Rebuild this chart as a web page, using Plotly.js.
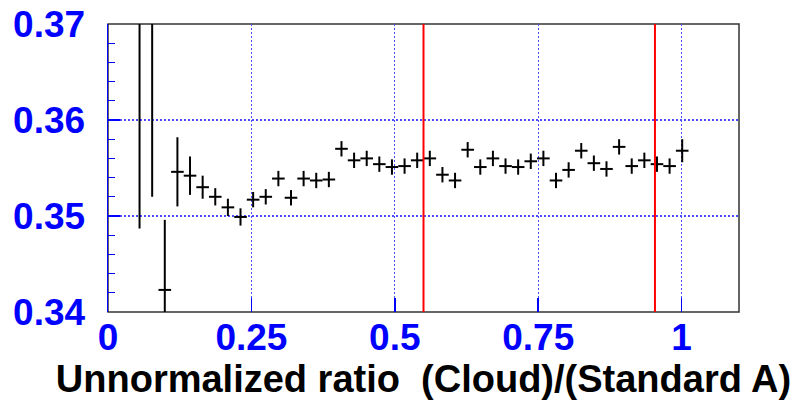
<!DOCTYPE html>
<html>
<head>
<meta charset="utf-8">
<script src="https://cdn.plot.ly/plotly-3.0.1.min.js"></script>
<style>html,body{margin:0;padding:0;background:#fff;}#chart{width:797px;height:404px;}</style>
</head>
<body>
<div id="chart"></div>
<script>
// Bin centres (width 0.022)
const binX = [0.055,0.077,0.099,0.121,0.143,0.165,0.187,0.209,0.231,0.253,
  0.275,0.297,0.319,0.341,0.363,0.385,0.407,0.429,0.451,0.473,
  0.495,0.517,0.539,0.561,0.583,0.605,0.627,0.649,0.671,0.693,
  0.715,0.737,0.759,0.781,0.803,0.825,0.847,0.869,0.891,0.913,
  0.935,0.957,0.979,1.001];
const binHalfWidth = [0.011,0.011,0.011,0.011,0.011,0.011,0.011,0.011,0.011,0.011,
  0.011,0.011,0.011,0.011,0.011,0.011,0.011,0.011,0.011,0.011,
  0.011,0.011,0.011,0.011,0.011,0.011,0.011,0.011,0.011,0.011,
  0.011,0.011,0.011,0.011,0.011,0.011,0.011,0.011,0.011,0.011,
  0.011,0.011,0.011,0.011];
const ratioValues = [0.378,0.376,0.3423,0.3546,0.3542,0.3530,0.3520,0.3509,0.3499,0.3517,
  0.3520,0.3539,0.3519,0.3539,0.3537,0.3538,0.3570,0.3558,0.3560,0.3554,
  0.3551,0.3552,0.3558,0.3560,0.3543,0.3537,0.3569,0.3551,0.3560,0.3552,
  0.3551,0.3557,0.3560,0.3537,0.3548,0.3568,0.3555,0.3549,0.3572,0.3552,
  0.3558,0.3554,0.3552,0.3568];
const ratioErrors = [0.0293,0.024,0.0073,0.0036,0.0020,0.0012,0.0009,0.0009,0.0009,0.0008,
  0.0008,0.0008,0.0008,0.0008,0.0008,0.0008,0.0008,0.0008,0.0008,0.0008,
  0.0008,0.0008,0.0008,0.0008,0.0008,0.0008,0.0008,0.0008,0.0008,0.0008,
  0.0008,0.0008,0.0008,0.0008,0.0008,0.0008,0.0008,0.0008,0.0008,0.0008,
  0.0008,0.0008,0.0008,0.0012];
const xTickVals = [0, 0.25, 0.5, 0.75, 1];
const xTickText = ['0', '0.25', '0.5', '0.75', '1'];
const yTickVals = [0.34, 0.35, 0.36, 0.37];
const yTickText = ['0.34', '0.35', '0.36', '0.37'];
const redLines = [0.55, 0.9535];
const xTitle = 'Unnormalized ratio  (Cloud)/(Standard A)';

const trace = {
  type: 'scatter', mode: 'markers',
  x: binX, y: ratioValues,
  marker: {size: 1, color: 'black'},
  error_y: {type: 'data', array: ratioErrors, visible: true, color: 'black', thickness: 2, width: 0},
  error_x: {type: 'data', array: binHalfWidth, visible: true, color: 'black', thickness: 2, width: 0},
  cliponaxis: true,
  hoverinfo: 'none'
};

const shapes = [{
  type: 'rect', xref: 'paper', yref: 'paper', x0: 0, x1: 1, y0: 0, y1: 1,
  line: {color: '#333', width: 1.5}, layer: 'below'
}];
redLines.forEach(v => shapes.push({
  type: 'line', xref: 'x', yref: 'paper', x0: v, x1: v, y0: 0, y1: 1,
  line: {color: 'red', width: 2}, layer: 'above'
}));

const tickFont = {family: '"Liberation Sans", Arial, sans-serif', size: 37, color: '#0000ff', weight: 700};

const layout = {
  width: 797, height: 404,
  margin: {l: 108, r: 58, t: 24, b: 92},
  paper_bgcolor: 'white', plot_bgcolor: 'white',
  showlegend: false,
  xaxis: {
    range: [0, 1.1], tickmode: 'array', tickvals: xTickVals, ticktext: xTickText,
    ticks: 'inside', ticklen: 14, tickwidth: 1.5, tickcolor: '#0000ff',
    showgrid: true, gridcolor: '#4a4aff', griddash: '2px,2px', gridwidth: 1.2,
    zeroline: false, showline: false,
    tickfont: tickFont, ticklabelstandoff: 0,
    title: {text: xTitle, font: {family: '"Liberation Sans", Arial, sans-serif', size: 38, color: 'black', weight: 700}, standoff: 8}
  },
  yaxis: {
    range: [0.34, 0.37], tickmode: 'array', tickvals: yTickVals, ticktext: yTickText,
    ticks: 'inside', ticklen: 12, tickwidth: 1.5, tickcolor: '#0000ff',
    minor: {dtick: 0.002, ticks: 'inside', ticklen: 7, tickcolor: '#0000ff', tickwidth: 1, showgrid: false},
    showgrid: true, gridcolor: '#4a4aff', griddash: '2px,2px', gridwidth: 1.2,
    zeroline: false, showline: true, linecolor: '#0000ff', linewidth: 1.5,
    tickfont: tickFont, ticklabelstandoff: 14
  },
  shapes: shapes
};

Plotly.newPlot('chart', [trace], layout, {staticPlot: true, displayModeBar: false});
</script>
</body>
</html>
